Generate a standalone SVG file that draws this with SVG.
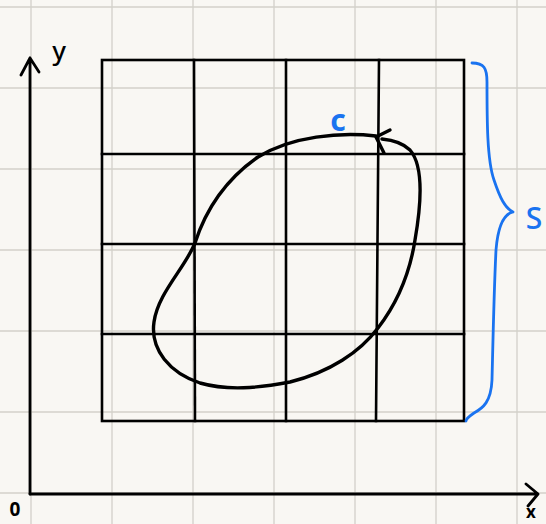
<svg xmlns="http://www.w3.org/2000/svg" width="546" height="524" viewBox="0 0 546 524">
  <style>
    .paper { stroke: #d3d0ca; stroke-width: 1.3; }
    .grid { stroke: #000; stroke-width: 2.6; fill: none; stroke-linecap: square; }
    .axis { stroke: #000; stroke-width: 2.8; fill: none; stroke-linecap: round; stroke-linejoin: round; }
    .curve { stroke: #000; stroke-width: 3.4; fill: none; stroke-linecap: round; stroke-linejoin: round; }
    .brace { stroke: #1a73f0; stroke-width: 2.8; fill: none; stroke-linecap: round; stroke-linejoin: round; }
    .lbl { font-family: "Noto Sans", "DejaVu Sans", sans-serif; font-weight: 700; fill: #000; }
    .thin { font-weight: 500; }
    .blue { fill: #1a73f0; }
  </style>
  <rect x="0" y="0" width="546" height="524" fill="#f9f7f3"/>
  <g id="paper-grid">
    <line class="paper" x1="31" y1="0" x2="31" y2="524"/>
    <line class="paper" x1="112" y1="0" x2="112" y2="524"/>
    <line class="paper" x1="193" y1="0" x2="193" y2="524"/>
    <line class="paper" x1="274" y1="0" x2="274" y2="524"/>
    <line class="paper" x1="355" y1="0" x2="355" y2="524"/>
    <line class="paper" x1="436" y1="0" x2="436" y2="524"/>
    <line class="paper" x1="517" y1="0" x2="517" y2="524"/>
    <line class="paper" x1="0" y1="7" x2="546" y2="7"/>
    <line class="paper" x1="0" y1="88" x2="546" y2="88"/>
    <line class="paper" x1="0" y1="169" x2="546" y2="169"/>
    <line class="paper" x1="0" y1="250" x2="546" y2="250"/>
    <line class="paper" x1="0" y1="331" x2="546" y2="331"/>
    <line class="paper" x1="0" y1="412" x2="546" y2="412"/>
    <line class="paper" x1="0" y1="493" x2="546" y2="493"/>
  </g>
  <g id="region-S">
    <rect class="grid" x="102" y="60" width="362" height="361"/>
    <line class="grid" x1="102" y1="154" x2="464" y2="154"/>
    <line class="grid" x1="102" y1="244" x2="464" y2="244"/>
    <line class="grid" x1="102" y1="334" x2="464" y2="334"/>
    <line class="grid" x1="194" y1="60" x2="195" y2="421"/>
    <line class="grid" x1="286" y1="60" x2="286" y2="421"/>
    <line class="grid" x1="379" y1="60" x2="376" y2="421"/>
  </g>
  <g id="axes">
    <path class="axis" d="M30,494 L30,58 M21,75 L30,58 L39,72"/>
    <path class="axis" d="M30,494 L538,494 M526,484 L538,494 L528,506"/>
    <text class="lbl" x="15" y="516" font-size="19" text-anchor="middle">0</text>
    <text class="lbl" x="531" y="518" font-size="17" text-anchor="middle">x</text>
    <text class="lbl thin" x="59" y="60" font-size="26" text-anchor="middle">y</text>
  </g>
  <g id="curve-C">
    <path class="curve" d="M376,136 C340,132 292,136 258,157 C225,180 205,212 195,243 C185,268 158,293 154,322 C150,350 170,373 200,383 C228,391 258,388 290,382 C330,372 360,352 378,328 C398,302 410,272 415,240 C422,200 423,165 410,150 C402,142 392,140 382,139"/>
    <path class="curve" d="M390,130 L376,137 L384,153"/>
    <text class="lbl blue" x="338" y="131" font-size="30" text-anchor="middle">c</text>
  </g>
  <g id="brace-S">
    <path class="brace" d="M472,63 C484,63 487,68 487,82 C487,120 487,160 494,180 C500,198 505,208 513,212 C504,214 498,225 496,250 C494,290 493,340 492,380 C491,402 483,408 474,413 C468,417 466,420 466,421"/>
    <text class="lbl thin blue" x="534" y="229" font-size="30" text-anchor="middle">S</text>
  </g>
</svg>
